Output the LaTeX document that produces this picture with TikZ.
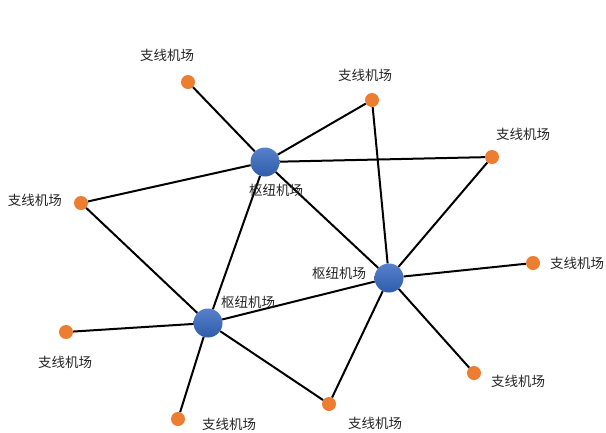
\documentclass[tikz,border=0pt]{standalone}
\usepackage{fontspec}
\newfontfamily\cjk{Noto Sans CJK SC}
\definecolor{hubblue}{HTML}{4472C4}
\definecolor{hubdark}{HTML}{2F5DAA}
\definecolor{spokeorange}{HTML}{ED7D31}
\definecolor{labelgray}{HTML}{262626}
\begin{document}
\begin{tikzpicture}[x=1pt,y=-1pt,
  hub/.style={circle,inner sep=0pt,minimum size=29pt,shading=axis,top color=hubblue!90,bottom color=hubdark,draw=none},
  spoke/.style={circle,inner sep=0pt,minimum size=14pt,fill=spokeorange,draw=none},
  lbl/.style={font=\cjk\fontsize{13.5}{15}\selectfont,text=labelgray,inner sep=0pt},
  link/.style={draw=black,line width=2pt}]
\useasboundingbox (0,0) rectangle (606,432);
\fill[white] (0,0) rectangle (606,432);
% hubs
\node[hub] (H1) at (265,162) {};
\node[hub] (H2) at (389,278) {};
\node[hub] (H3) at (208,323) {};
% spokes
\node[spoke] (S1) at (188,82) {};
\node[spoke] (S2) at (372,100) {};
\node[spoke] (S3) at (492,157) {};
\node[spoke] (S4) at (81,203) {};
\node[spoke] (S5) at (533,263) {};
\node[spoke] (S6) at (66,332) {};
\node[spoke] (S7) at (474,373) {};
\node[spoke] (S8) at (329,404) {};
\node[spoke] (S9) at (178,419) {};
% links
\path[link] (S1) -- (H1);
\path[link] (H1) -- (S2);
\path[link] (H1) -- (S3);
\path[link] (H1) -- (S4);
\path[link] (H1) -- (H2);
\path[link] (H1) -- (H3);
\path[link] (S2) -- (H2);
\path[link] (S3) -- (H2);
\path[link] (S4) -- (H3);
\path[link] (H2) -- (S5);
\path[link] (H2) -- (S7);
\path[link] (H2) -- (S8);
\path[link] (H2) -- (H3);
\path[link] (H3) -- (S6);
\path[link] (H3) -- (S9);
\path[link] (H3) -- (S8);
% labels
\node[lbl] (L1) at (167,55) {支线机场};
\node[lbl] (L2) at (365,75) {支线机场};
\node[lbl] (L3) at (523,134) {支线机场};
\node[lbl] (L4) at (35,200) {支线机场};
\node[lbl] (L5) at (577,263) {支线机场};
\node[lbl] (L6) at (65,362) {支线机场};
\node[lbl] (L7) at (518,381) {支线机场};
\node[lbl] (L8) at (375,423) {支线机场};
\node[lbl] (L9) at (229,424) {支线机场};
\node[lbl] (LH1) at (276,190) {枢纽机场};
\node[lbl] (LH2) at (339,273) {枢纽机场};
\node[lbl] (LH3) at (248,302) {枢纽机场};
\end{tikzpicture}
\end{document}
